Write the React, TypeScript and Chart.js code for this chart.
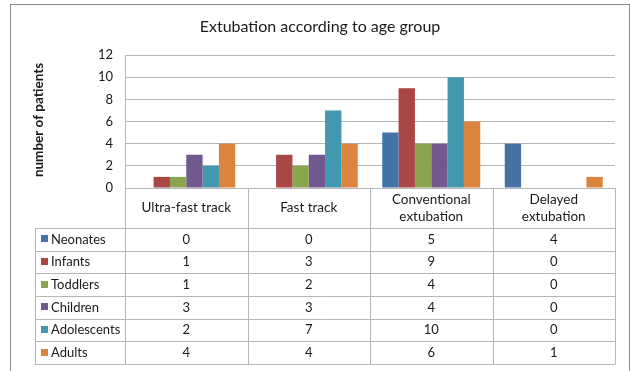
import React, { useEffect, useRef } from "react";
import { Chart, registerables } from "chart.js";

Chart.register(...registerables);

const chartTitle = "Extubation according to age group";
const yAxisTitle = "number of patients";
const categories = [["Ultra-fast track"], ["Fast track"], ["Conventional", "extubation"], ["Delayed", "extubation"]];
const seriesNames = ["Neonates", "Infants", "Toddlers", "Children", "Adolescents", "Adults"];
const neonates = [0, 0, 5, 4];
const infants = [1, 3, 9, 0];
const toddlers = [1, 2, 4, 0];
const children = [3, 3, 4, 0];
const adolescents = [2, 7, 10, 0];
const adults = [4, 4, 6, 1];
const seriesValues = [neonates, infants, toddlers, children, adolescents, adults];
const seriesColors = ["#4572A7", "#AA4643", "#89A54E", "#71588F", "#4198AF", "#DB843D"];

const FONT = "Lato, 'Open Sans', sans-serif";
const GRID = "#b5b5b5";
const TEXT = "#1a1a1a";

// Layout of the data table that sits under the plot
const HEADER_H = 40;
const ROW_H = 22.67;
const LEGEND_LEFT = 35;

const tablePlugin = {
  id: "dataTable",
  afterDraw(chart: any) {
    const { ctx, chartArea } = chart;
    const x = chart.scales.x;
    const n = categories.length;
    const top = chartArea.bottom;
    const left = chartArea.left;
    const right = chartArea.right;
    const headerBottom = top + HEADER_H;
    const tableBottom = headerBottom + ROW_H * seriesNames.length;

    ctx.save();
    // outer frame
    ctx.strokeStyle = "#8a8a8a";
    ctx.lineWidth = 1;
    ctx.strokeRect(10.5, 4.5, 619, 400);

    // chart title
    ctx.fillStyle = TEXT;
    ctx.font = `16px ${FONT}`;
    ctx.textAlign = "center";
    ctx.textBaseline = "middle";
    ctx.fillText(chartTitle, 320, 27);

    // y axis title
    ctx.save();
    ctx.translate(39, 120);
    ctx.rotate(-Math.PI / 2);
    ctx.font = `bold 13.5px ${FONT}`;
    ctx.fillText(yAxisTitle, 0, 0);
    ctx.restore();

    // grid of the table
    ctx.strokeStyle = GRID;
    ctx.lineWidth = 1;
    const bounds: number[] = [left];
    for (let i = 0; i < n - 1; i++) {
      bounds.push((x.getPixelForValue(i) + x.getPixelForValue(i + 1)) / 2);
    }
    bounds.push(right);
    ctx.beginPath();
    for (const b of bounds) {
      const bx = Math.round(b) + 0.5;
      ctx.moveTo(bx, top);
      ctx.lineTo(bx, tableBottom);
    }
    ctx.moveTo(LEGEND_LEFT + 0.5, headerBottom);
    ctx.lineTo(LEGEND_LEFT + 0.5, tableBottom);
    for (let r = 0; r <= seriesNames.length; r++) {
      const y = Math.round(headerBottom + r * ROW_H) + 0.5;
      ctx.moveTo(LEGEND_LEFT, y);
      ctx.lineTo(right + 0.5, y);
    }
    ctx.stroke();

    // header labels
    ctx.fillStyle = TEXT;
    ctx.font = `13.5px ${FONT}`;
    ctx.textAlign = "center";
    for (let i = 0; i < n; i++) {
      const cx = x.getPixelForValue(i);
      const lines = categories[i];
      const lh = 17;
      const y0 = top + HEADER_H / 2 - ((lines.length - 1) * lh) / 2;
      lines.forEach((t, k) => ctx.fillText(t, cx, y0 + k * lh));
    }

    // rows: legend key, name and values
    ctx.font = `13px ${FONT}`;
    for (let r = 0; r < seriesNames.length; r++) {
      const cy = headerBottom + r * ROW_H + ROW_H / 2;
      ctx.fillStyle = seriesColors[r];
      ctx.fillRect(LEGEND_LEFT + 6, Math.round(cy - 4), 7, 7);
      ctx.fillStyle = TEXT;
      ctx.textAlign = "left";
      ctx.fillText(seriesNames[r], LEGEND_LEFT + 16, cy);
      ctx.textAlign = "center";
      for (let i = 0; i < n; i++) {
        ctx.fillText(String(seriesValues[r][i]), x.getPixelForValue(i), cy);
      }
    }
    ctx.restore();
  },
};

export default function App() {
  const ref = useRef<HTMLCanvasElement | null>(null);

  useEffect(() => {
    if (!ref.current) return;
    const chart = new Chart(ref.current, {
      type: "bar",
      data: {
        labels: categories.map((c) => c.join(" ")),
        datasets: seriesNames.map((name, i) => ({
          label: name,
          data: seriesValues[i],
          backgroundColor: seriesColors[i],
          borderWidth: 0,
          categoryPercentage: 0.8,
          barPercentage: 1,
        })),
      },
      options: {
        responsive: false,
        animation: false,
        devicePixelRatio: 1,
        layout: { padding: { left: 0, top: 55, right: 15, bottom: 183 } },
        plugins: {
          legend: { display: false },
          title: { display: false },
          tooltip: { enabled: false },
        },
        scales: {
          x: {
            display: false,
            offset: true,
          },
          y: {
            min: 0,
            max: 12,
            ticks: {
              stepSize: 2,
              padding: 12,
              color: TEXT,
              font: { family: FONT, size: 13 },
            },
            grid: { color: GRID, drawTicks: false },
            border: { display: true, color: GRID },
            afterFit(scale: any) {
              scale.width = 125;
            },
          },
        },
      },
      plugins: [tablePlugin],
    });
    return () => chart.destroy();
  }, []);

  return (
    <div style={{ position: "fixed", left: 0, top: 0, width: 630, height: 371, background: "#fff" }}>
      <canvas ref={ref} width={630} height={371} />
    </div>
  );
}
